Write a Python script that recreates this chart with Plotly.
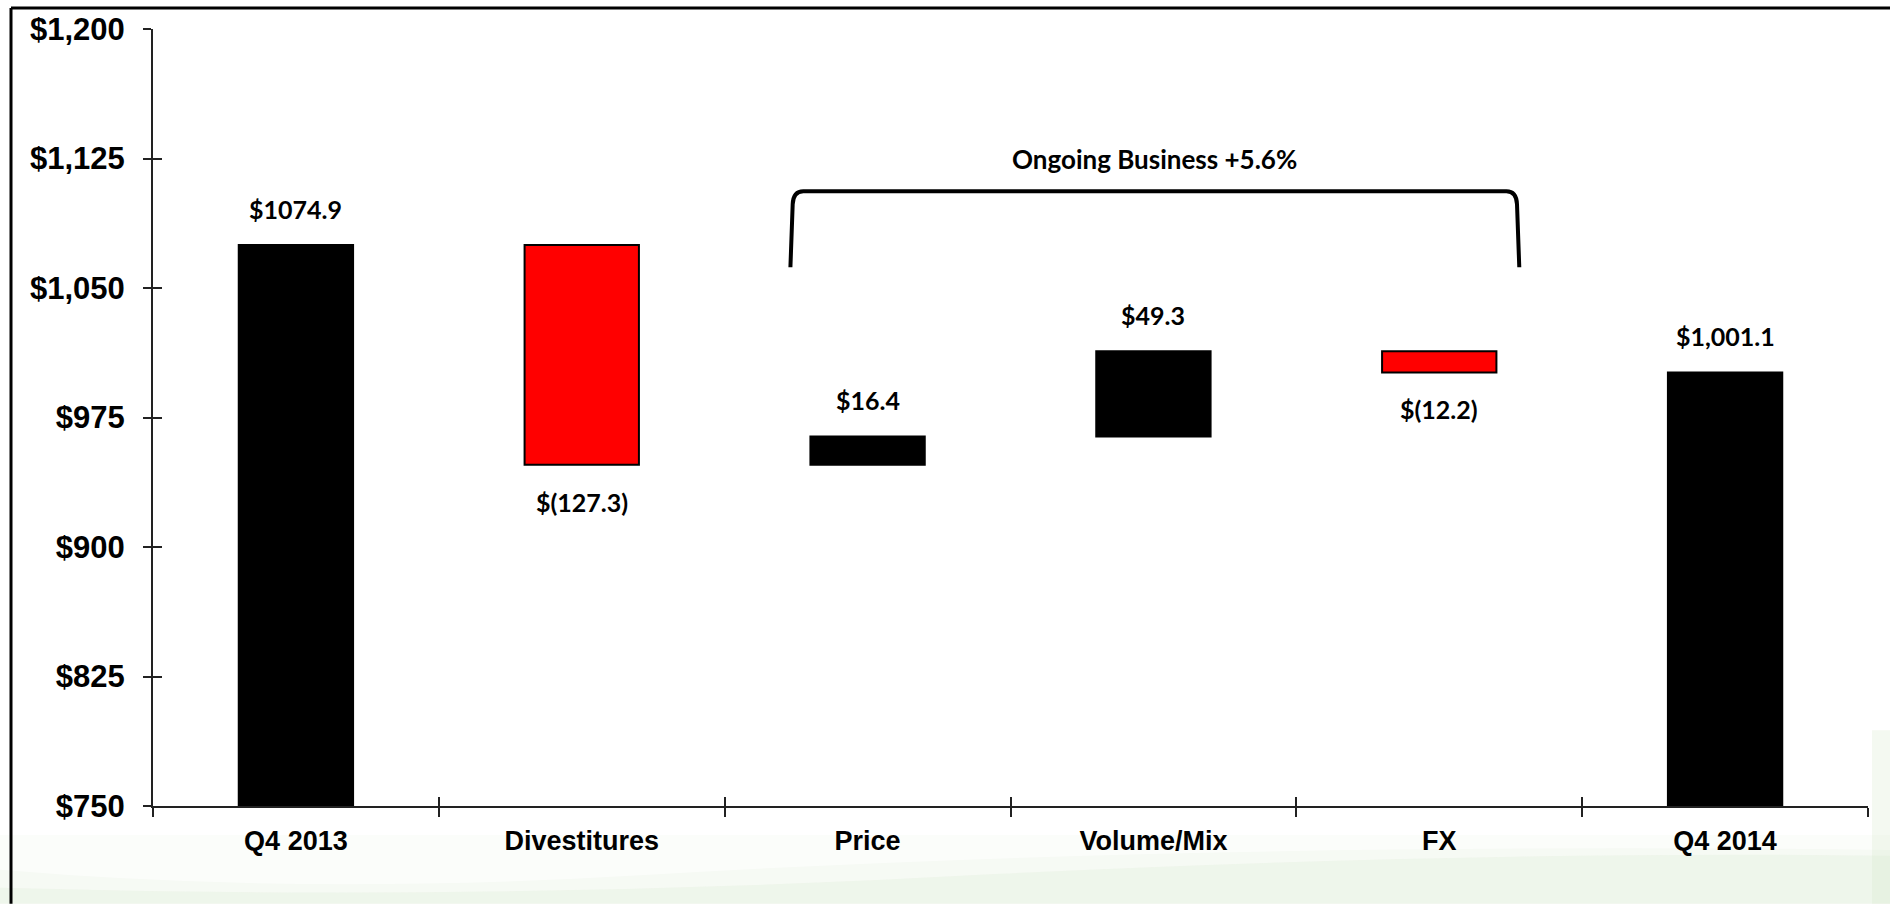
import plotly.graph_objects as go

# ---- data ----
categories = ["Q4 2013", "Divestitures", "Price", "Volume/Mix", "FX", "Q4 2014"]
measures = ["absolute", "relative", "relative", "relative", "relative", "total"]
values = [1074.9, -127.3, 16.4, 49.3, -12.2, 1001.1]
value_labels = ["$1074.9", "$(127.3)", "$16.4", "$49.3", "$(12.2)", "$1,001.1"]
y_ticks = [750, 825, 900, 975, 1050, 1125, 1200]
y_tick_labels = ["$750", "$825", "$900", "$975", "$1,050", "$1,125", "$1,200"]
bracket_label = "Ongoing Business +5.6%"
bracket_span = ["Price", "FX"]

# ---- waterfall geometry from the values ----
bases, heights, colors, label_y, label_shift = [], [], [], [], []
running = 0.0
for m, v in zip(measures, values):
    if m == "absolute":
        start, end = 0.0, v
        running = v
    elif m == "total":
        start, end = 0.0, running
    else:
        start, end = running, running + v
        running = end
    lo, hi = min(start, end), max(start, end)
    bases.append(lo)
    heights.append(hi - lo)
    neg = m == "relative" and v < 0
    colors.append("#FF0000" if neg else "#000000")
    label_y.append(lo if neg else hi)
    label_shift.append(-37 if neg else 36)

W, H = 1890, 904
L, R, T, B = 153, 1868, 27, 806

def px(x):
    return (x - L) / (R - L)

def py(y):
    return (B - y) / (B - T)

AXIS_FONT = dict(family="Liberation Sans, Arial, sans-serif", color="#000000", weight="bold")
LABEL_FONT = dict(family="Lato, sans-serif", size=25, color="#000000", weight="bold")

fig = go.Figure()

fig.add_trace(go.Bar(
    x=categories, y=heights, base=bases,
    width=0.4,
    marker=dict(color=colors, line=dict(color="#000000", width=2)),
    showlegend=False, hoverinfo="skip",
))

# companion axes that carry the inward half of each tick mark
fig.add_trace(go.Scatter(
    x=categories, y=[None] * len(categories), xaxis="x2", yaxis="y2",
    mode="markers", showlegend=False, hoverinfo="skip",
))

# value labels
for c, yv, s, t in zip(categories, label_y, label_shift, value_labels):
    fig.add_annotation(x=c, y=yv, yshift=s, text=t, showarrow=False,
                       font=LABEL_FONT, xanchor="center", yanchor="middle")

# bracket over the ongoing-business steps
i0 = categories.index(bracket_span[0])
i1 = categories.index(bracket_span[1])
bx0, bx1 = i0 - 0.27, i1 + 0.28
by_top, by_bot = 1106.0, 1062.0
rx, ry = 0.045, 7.5
path = (f"M {bx0},{by_bot} L {bx0 + 0.008},{by_top - ry} "
        f"Q {bx0 + 0.01},{by_top} {bx0 + rx},{by_top} "
        f"L {bx1 - rx},{by_top} "
        f"Q {bx1 - 0.01},{by_top} {bx1 - 0.008},{by_top - ry} "
        f"L {bx1},{by_bot}")
fig.add_shape(type="path", path=path, xref="x", yref="y",
              line=dict(color="#000000", width=4))
fig.add_annotation(x=(bx0 + bx1) / 2, y=by_top, yshift=32, text=bracket_label,
                   showarrow=False, font=dict(LABEL_FONT, size=26),
                   xanchor="center", yanchor="middle")

# faint green swoosh of the slide background
fig.add_shape(type="rect", xref="paper", yref="paper",
              x0=px(0), x1=px(W), y0=py(H), y1=py(835),
              fillcolor="rgba(214,234,206,0.22)", line=dict(width=0), layer="below")
fig.add_shape(type="path", xref="paper", yref="paper",
              path=(f"M {px(0)},{py(835)} L {px(W)},{py(835)} L {px(W)},{py(850)} "
                    f"Q {px(1200)},{py(842)} {px(650)},{py(875)} "
                    f"Q {px(300)},{py(896)} {px(0)},{py(870)} Z"),
              fillcolor="rgba(255,255,255,0.55)", line=dict(width=0), layer="below")
fig.add_shape(type="path", xref="paper", yref="paper",
              path=(f"M {px(0)},{py(H)} L {px(0)},{py(888)} "
                    f"Q {px(500)},{py(902)} {px(1000)},{py(874)} "
                    f"Q {px(1500)},{py(850)} {px(W)},{py(856)} L {px(W)},{py(H)} Z"),
              fillcolor="rgba(205,228,196,0.18)", line=dict(width=0), layer="below")
fig.add_shape(type="rect", xref="paper", yref="paper",
              x0=px(1872), x1=px(W), y0=py(H), y1=py(730),
              fillcolor="rgba(214,234,206,0.28)", line=dict(width=0), layer="below")

# slide frame
fig.add_shape(type="line", xref="paper", yref="paper",
              x0=px(11), x1=px(11), y0=py(6), y1=py(H),
              line=dict(color="#000000", width=3))
fig.add_shape(type="line", xref="paper", yref="paper",
              x0=px(11), x1=px(W), y0=py(6), y1=py(6),
              line=dict(color="#000000", width=3))

fig.update_layout(
    width=W, height=H,
    margin=dict(l=L, r=W - R, t=T, b=H - B),
    paper_bgcolor="#FFFFFF", plot_bgcolor="rgba(0,0,0,0)",
    bargap=0.6,
    xaxis=dict(
        type="category", categoryorder="array", categoryarray=categories,
        range=[-0.5, len(categories) - 0.5],
        tickson="boundaries", ticks="outside", ticklen=9, tickwidth=2, tickcolor="#222222",
        showline=True, linecolor="#222222", linewidth=2,
        showgrid=False, zeroline=False,
        tickfont=dict(AXIS_FONT, size=27), ticklabelstandoff=10,
    ),
    yaxis=dict(
        range=[y_ticks[0], y_ticks[-1]], tickvals=y_ticks, ticktext=y_tick_labels,
        ticks="outside", ticklen=8, tickwidth=2, tickcolor="#222222",
        showline=True, linecolor="#222222", linewidth=2,
        showgrid=False, zeroline=False,
        tickfont=dict(AXIS_FONT, size=31), ticklabelstandoff=12,
    ),
    xaxis2=dict(
        type="category", categoryorder="array", categoryarray=categories,
        range=[-0.5, len(categories) - 0.5], overlaying="x", side="bottom",
        tickson="boundaries", ticks="inside", ticklen=9, tickwidth=2, tickcolor="#222222",
        showticklabels=False, showline=False, showgrid=False, zeroline=False,
    ),
    yaxis2=dict(
        range=[y_ticks[0], y_ticks[-1]], tickvals=y_ticks, overlaying="y", side="left",
        ticks="inside", ticklen=9, tickwidth=2, tickcolor="#222222",
        showticklabels=False, showline=False, showgrid=False, zeroline=False,
    ),
)

fig.write_html("out.html")
